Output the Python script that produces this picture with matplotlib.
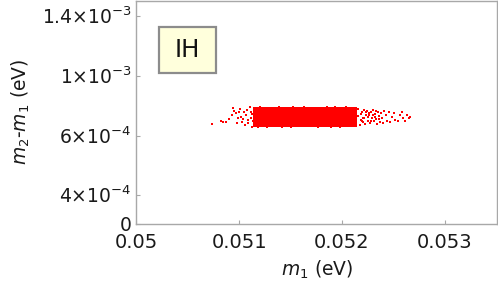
import matplotlib
matplotlib.use('Agg')
import matplotlib.pyplot as plt
import numpy as np

plt.rcParams['font.family'] = 'DejaVu Sans'
plt.rcParams['mathtext.fontset'] = 'dejavusans'

# dense core of the scan (m1 in eV, m2-m1 in 1e-4 eV)
core_m1 = [0.05116, 0.05120, 0.05124, 0.05128, 0.05132, 0.05136, 0.05140,
           0.05144, 0.05148, 0.05152, 0.05156, 0.05160, 0.05164, 0.05168,
           0.05172, 0.05176, 0.05180, 0.05184, 0.05188, 0.05192, 0.05196,
           0.05200, 0.05204, 0.05208, 0.05212]
core_dm = [6.80, 7.04, 7.28, 7.52, 7.74]

# scattered points around the core and at the two ends
tail_m1 = [0.050735, 0.050822, 0.050845, 0.05087, 0.05090, 0.05093, 0.05094,
           0.05095, 0.05097, 0.05099, 0.05098, 0.05101, 0.05102, 0.05103,
           0.05105, 0.05106, 0.05107, 0.05109, 0.05110, 0.05112, 0.05108,
           0.05111, 0.05104, 0.05100, 0.05109, 0.05112, 0.05113, 0.05111,
           0.05120, 0.05131, 0.05139, 0.05152, 0.05163, 0.05171, 0.05185,
           0.05193, 0.05204, 0.05210,
           0.05118, 0.05127, 0.05142, 0.05150, 0.05166, 0.05177, 0.05189,
           0.05198, 0.05207,
           0.05216, 0.05216, 0.05217, 0.05218, 0.05219, 0.05220, 0.05221,
           0.05221, 0.05222, 0.05223, 0.05224, 0.05225, 0.05226, 0.05227,
           0.05228, 0.05229, 0.05230, 0.05231, 0.05232, 0.05233, 0.05234,
           0.05235, 0.05236, 0.05237, 0.05238, 0.05239, 0.05240, 0.05241,
           0.05218, 0.05220, 0.05223, 0.05225, 0.05228, 0.05230, 0.05233,
           0.05236, 0.05219, 0.05226, 0.05232,
           0.05243, 0.05244, 0.05246, 0.05247, 0.05249, 0.05251, 0.05252,
           0.05254, 0.05256, 0.05258, 0.05259, 0.05261, 0.05263, 0.05265,
           0.05266]
tail_dm = [6.78, 7.00, 6.89, 6.93, 7.09, 7.38, 7.83,
           7.67, 7.49, 7.16, 6.83, 7.76, 7.27, 6.93,
           7.60, 6.71, 7.38, 7.05, 7.89, 6.60, 7.70,
           7.20, 7.10, 7.55, 6.85, 7.45, 7.00, 7.60,
           7.90, 7.88, 7.92, 7.89, 7.91, 7.88, 7.90,
           7.92, 7.89, 7.88,
           6.60, 6.58, 6.61, 6.59, 6.62, 6.58, 6.60,
           6.61, 6.62,
           7.80, 7.30, 6.70, 7.05, 7.55, 6.90, 7.70,
           7.15, 6.80, 7.40, 7.65, 7.00, 7.35, 6.85,
           7.55, 7.20, 7.72, 6.95, 7.45, 7.10, 6.80,
           7.60, 7.30, 6.90, 7.50, 7.15, 6.85, 7.65,
           7.45, 7.20, 7.55, 7.25, 6.95, 7.40, 7.62,
           7.10, 7.00, 7.50, 7.25,
           7.35, 7.00, 7.55, 6.92, 7.25, 7.50, 7.05,
           6.95, 7.40, 7.60, 7.15, 7.00, 7.35, 7.20,
           7.28]

xticks = [0.05, 0.051, 0.052, 0.053]
xlabels = ['0.05', '0.051', '0.052', '0.053']
yticks = [0, 4e-4, 6e-4, 1e-3, 1.4e-3]
ylabels = ['0', '4×10$^{-4}$', '6×10$^{-4}$', '1×10$^{-3}$', '1.4×10$^{-3}$']

# the vertical axis of the original is not linear: piecewise map
y_knots = [0, 4e-4, 6e-4, 1e-3, 1.4e-3, 2e-3]
y_pos = [0, 28.8, 87.8, 147.8, 207.8, 297.8]

def fwd(v):
    return np.interp(v, y_knots, y_pos)

def inv(p):
    return np.interp(p, y_pos, y_knots)

fig = plt.figure(figsize=(4.98, 2.98), dpi=100)
ax = fig.add_axes([0.274, 0.25, 0.7245, 0.7466])
ax.set_yscale('function', functions=(fwd, inv))

cx, cy = np.meshgrid(core_m1, core_dm)
ax.scatter(cx.ravel(), cy.ravel() * 1e-4, s=15, marker='s', color='red', linewidths=0)
ax.scatter(tail_m1, np.array(tail_dm) * 1e-4, s=3.5, marker='s', color='red', linewidths=0)

ax.set_xlim(0.05, 0.05351)
ax.set_ylim(0, 1.498e-3)
ax.set_xticks(xticks)
ax.set_xticklabels(xlabels, fontsize=14)
ax.set_yticks(yticks)
ax.set_yticklabels(ylabels, fontsize=13.5)
ax.minorticks_off()

for s in ax.spines.values():
    s.set_color('#a8a8a8')
    s.set_linewidth(1.0)
ax.tick_params(direction='in', length=3, width=0.8, color='#a8a8a8',
               labelcolor='#1a1a1a', pad=3.5)
ax.tick_params(axis='x', pad=7)

ax.set_xlabel('$m_1$ (eV)', fontsize=13.5, color='#1a1a1a', labelpad=5)
ax.set_ylabel('$m_2$-$m_1$ (eV)', fontsize=13.5, color='#1a1a1a', labelpad=7)

ax.add_patch(plt.Rectangle((0.0623, 0.676), 0.1577, 0.207, transform=ax.transAxes,
                           facecolor='#ffffdc', edgecolor='#8c8c8c', lw=1.6, zorder=5))
ax.text(0.141, 0.78, 'IH', transform=ax.transAxes, fontsize=17.5, color='#111111',
        ha='center', va='center', zorder=6)

fig.savefig('out.png', dpi=100)
